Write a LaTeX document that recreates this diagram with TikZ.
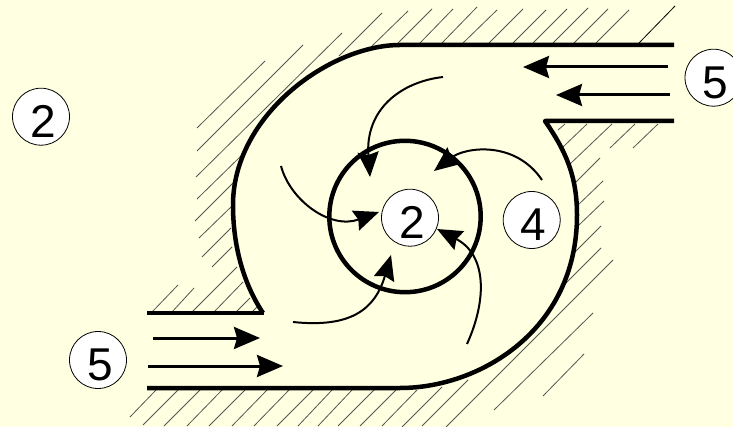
\documentclass[tikz,border=0pt]{standalone}
\usepackage{fontspec}
\setmainfont{Liberation Sans}
\usetikzlibrary{arrows.meta}
\definecolor{paper}{HTML}{FFFFE1}
\definecolor{hatchgrey}{HTML}{555555}
\newcommand{\digit}[1]{\raisebox{-20.5pt}[0pt][0pt]{\makebox[0pt]{\hspace{4pt}#1}}}
\tikzset{
  wall/.style={line width=4.5pt,black,line cap=butt,line join=round},
  hatchline/.style={line width=0.8pt,hatchgrey},
  flow/.style={line width=3pt,black,-{Stealth[length=26pt,width=22pt,inset=3pt]}},
  swirl/.style={line width=2pt,black,-{Stealth[length=25pt,width=21pt,inset=3pt]}},
  ring/.style={line width=4.5pt,black},
  tag/.style={circle,draw=black,line width=0.8pt,fill=white,minimum size=57pt,inner sep=0pt,font=\fontsize{46}{50}\selectfont}
}
\begin{document}
\begin{tikzpicture}[x=1pt,y=-1pt]
\clip (0,0) rectangle (733,427);
\fill[paper] (0,0) rectangle (733,427);
% hatching
\foreach \xa/\ya/\xb/\yb in {
 152/312/178/285, 172/312/194/288, 192/312/237/267, 214/312/243/282, 236/312/250/298, 252/312/257/307,
 156/390/130/417, 178/390/143/425, 200/390/164/426, 222/390/187/426, 245/390/209/426, 267/390/232/426,
 289/390/254/426, 313/390/277/426, 332/390/298/426, 352/390/318/426, 374/390/338/426, 396/390/360/426,
 417/390/382/426, 442/387/402/427, 468/380/422/426, 613/260/446/427, 593/313/494/410, 584/354/543/396,
 601/248/565/284, 601/226/575/252, 604/201/579/225, 603/181/577/206, 600/158/575/183, 612/124/570/164,
 587/124/563/147, 565/124/558/130, 635/124/610/148, 658/124/633/148,
 265/61/197/128, 303/45/197/151, 342/33/196/177, 382/13/339/56, 243/154/197/199, 233/183/195/221,
 231/207/199/238, 231/228/202/257, 232/247/212/267,
 408/11/372/46, 432/9/398/43, 453/9/420/43, 477/7/442/43, 497/10/463/43, 523/9/489/43, 546/10/513/43,
 567/9/533/43, 588/8/553/43, 608/9/574/43, 629/10/596/43}
  {\draw[hatchline] (\xa,\ya) -- (\xb,\yb);}
\draw[hatchline,black] (675,6) -- (639,43);
% casing
\draw[wall] (147,313) -- (264,313);
\draw[wall] (674,45) -- (400,45) .. controls (330,45) and (233,115) .. (233,205) .. controls (233,245) and (243,283) .. (263,313);
\draw[wall] (147,388) -- (400,388) .. controls (480,388) and (577,330) .. (577,215) .. controls (577,175) and (565,150) .. (545,121) -- (674,121);
% impeller ring
\draw[ring] (405,216.5) circle[radius=75.7];
% straight flows
\draw[flow] (153,338) -- (260,338);
\draw[flow] (148,366) -- (283,366);
\draw[flow] (668,67) -- (523,67);
\draw[flow] (670,95) -- (556,95);
% swirl flows
\draw[swirl] (443,77) .. controls (400,82) and (365,110) .. (370,177);
\draw[swirl] (542,180) .. controls (515,140) and (465,147) .. (434,171);
\draw[swirl] (281,166) .. controls (290,200) and (330,230) .. (379,212);
\draw[swirl] (293,322) .. controls (350,328) and (375,310) .. (391,255);
\draw[swirl] (467,344) .. controls (487,300) and (487,255) .. (437,229);
% labels
\node[tag] (outerTwo) at (41,116.7) {\digit{2}};
\node[tag] (innerTwo) at (410,217.7) {\digit{2}};
\node[tag] (four) at (531.7,220) {\digit{4}};
\node[tag] (lowerFive) at (98,360) {\digit{5}};
\node[tag] (upperFive) at (713.5,77.7) {\digit{5}};
\end{tikzpicture}
\end{document}
